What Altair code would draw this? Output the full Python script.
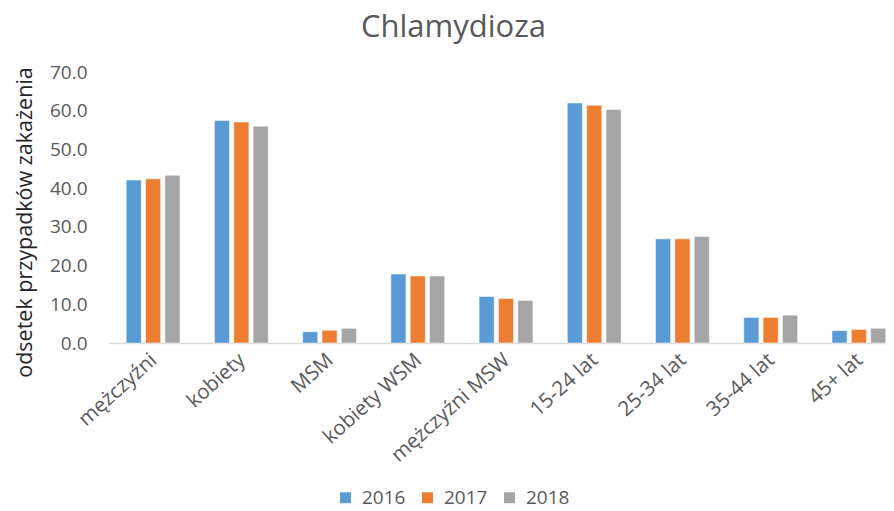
import altair as alt
import pandas as pd

categories = ["mężczyźni", "kobiety", "MSM", "kobiety WSM", "mężczyźni MSW",
              "15-24 lat", "25-34 lat", "35-44 lat", "45+ lat"]
years = ["2016", "2017", "2018"]
v2016 = [42.1, 57.5, 2.9, 17.8, 12.0, 62.0, 26.9, 6.6, 3.2]
v2017 = [42.4, 57.1, 3.3, 17.3, 11.5, 61.4, 26.9, 6.6, 3.5]
v2018 = [43.3, 56.0, 3.8, 17.3, 11.0, 60.3, 27.5, 7.2, 3.8]
colors = ["#5B9BD5", "#ED7D31", "#A5A5A5"]

rows = []
for y, vals in zip(years, [v2016, v2017, v2018]):
    for c, v in zip(categories, vals):
        rows.append({"kategoria": c, "rok": y, "wartosc": v})
df = pd.DataFrame(rows)

FONT = "Open Sans"
GREY = "#595959"

chart = alt.Chart(df).mark_bar(stroke="white", strokeWidth=0.5).encode(
    x=alt.X("kategoria:N", sort=categories, title=None,
            scale=alt.Scale(range=[0, 794], paddingInner=0.39, paddingOuter=0.195),
            axis=alt.Axis(labelAngle=318, labelAlign="right", labelBaseline="middle",
                          labelFontSize=20.5, labelColor=GREY, labelFont=FONT,
                          ticks=False, domainColor="#D9D9D9", domainWidth=1.5,
                          labelPadding=14, labelOffset=1)),
    xOffset=alt.XOffset("rok:N", sort=years,
                        scale=alt.Scale(paddingInner=0.22)),
    y=alt.Y("wartosc:Q", title="odsetek przypadków zakażenia",
            scale=alt.Scale(domain=[0, 70], nice=False),
            axis=alt.Axis(values=[0, 10, 20, 30, 40, 50, 60, 70], format=".1f",
                          grid=False, domain=False, ticks=False,
                          labelFontSize=19, labelColor=GREY, labelFont=FONT,
                          labelPadding=22, titleFontSize=21.5, titleColor="#262626",
                          titleFont=FONT, titleFontWeight="normal", titlePadding=13,
                          titleY=150)),
    color=alt.Color("rok:N", sort=years,
                    scale=alt.Scale(domain=years, range=colors),
                    legend=alt.Legend(title=None, orient="none", direction="horizontal",
                                      legendX=227, legendY=416, symbolType="square",
                                      symbolSize=120, labelFontSize=19, labelColor=GREY,
                                      labelFont=FONT, columnPadding=12, labelOffset=7,
                                      symbolStrokeWidth=0)),
).properties(
    width=777, height=271,
    title=alt.TitleParams("Chlamydioza", fontSize=31, font=FONT, color=GREY,
                          fontWeight="normal", anchor="middle", dx=-44, dy=9,
                          offset=28),
    padding={"left": 101, "top": 64, "right": 0, "bottom": 168},
    autosize=alt.AutoSizeParams(type="none"),
).configure_view(stroke=None)

chart.save("out.html", embed_options={"renderer": "svg", "actions": False})
